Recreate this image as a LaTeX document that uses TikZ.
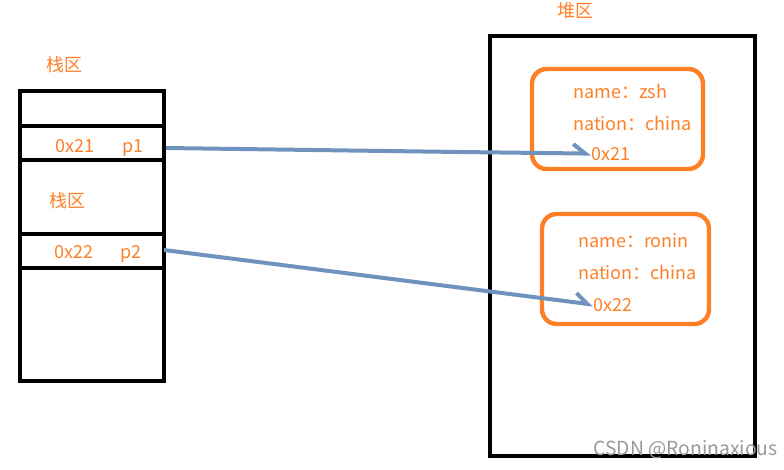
\documentclass[tikz,border=0pt]{standalone}
\usepackage{fontspec}
\setmainfont{Noto Sans CJK SC}
\usetikzlibrary{arrows.meta}
\definecolor{org}{RGB}{255,127,39}
\definecolor{arr}{RGB}{112,146,190}
\begin{document}
\begin{tikzpicture}[x=0.75pt,y=-0.75pt,
  blk/.style={draw=black,line width=3pt},
  obj/.style={draw=org,line width=3.3pt,rounded corners=11pt},
  lbl/.style={text=org,font=\fontsize{13.5}{15}\selectfont,inner sep=0pt},
  ptr/.style={draw=arr,line width=3pt,-{Straight Barb[left,length=9pt,width=14pt,line width=3pt]}}]
\useasboundingbox (0,0) rectangle (784,469);
% stack
\draw[blk] (20,91) rectangle (164,381);
\draw[blk] (20,126) -- (166,126);
\draw[blk] (20,160) -- (166,160);
\draw[blk] (20,234) -- (164,234);
\draw[blk] (20,268) -- (166,268);
\node[lbl,anchor=base] (st) at (64,71) {栈区};
\node[lbl,anchor=base] (st2) at (67,207) {栈区};
\node[lbl,anchor=base] (a1) at (75,152) {0x21};
\node[lbl,anchor=base] (p1) at (133,152) {p1};
\node[lbl,anchor=base] (a2) at (74,258) {0x22};
\node[lbl,anchor=base] (p2) at (131,258) {p2};
\coordinate (c1) at (166,148);
\coordinate (c2) at (164,250);
% heap
\draw[blk] (490,36) rectangle (755,456);
\node[lbl,anchor=base] (hp) at (575,17) {堆区};
\draw[obj] (532,69) rectangle (703,169);
\draw[obj] (542,214) rectangle (709,324);
\node[lbl,anchor=base west] (n1) at (573,98) {name：zsh};
\node[lbl,anchor=base west] (na1) at (573,130) {nation：china};
\node[lbl,anchor=base west] (h1) at (591,160) {0x21};
\node[lbl,anchor=base west] (n2) at (578,247) {name：ronin};
\node[lbl,anchor=base west] (na2) at (578,279) {nation：china};
\node[lbl,anchor=base west] (h2) at (593,311) {0x22};
\draw[ptr] (c1) -- (460,152) -- (h1.west);
\draw[ptr] (c2) -- (h2.west);
\node[text=black!40,font=\fontsize{14.5}{16}\selectfont,anchor=base east,inner sep=0pt] (wm) at (778,455) {CSDN @Roninaxious};
\end{tikzpicture}
\end{document}
